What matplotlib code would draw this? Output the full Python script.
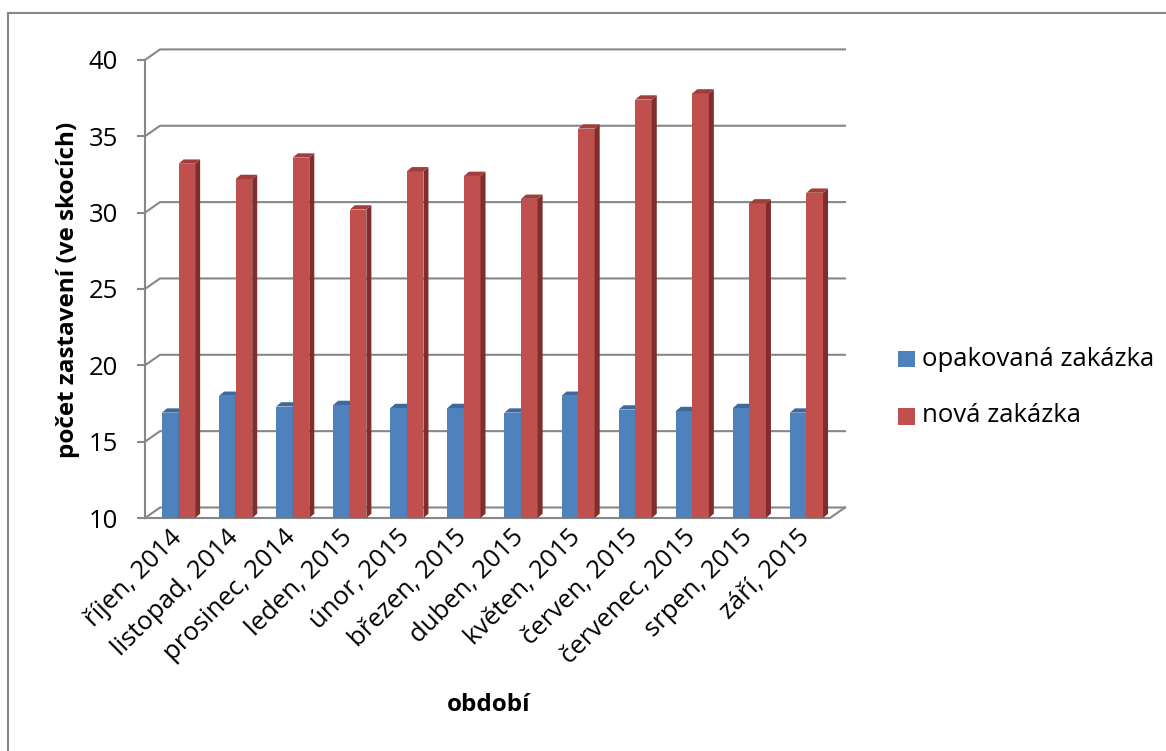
import matplotlib
matplotlib.use("Agg")
import matplotlib.pyplot as plt
from matplotlib.patches import Polygon, Rectangle
from matplotlib.lines import Line2D

# --- data -------------------------------------------------------------
months = ["říjen, 2014", "listopad, 2014", "prosinec, 2014", "leden, 2015",
          "únor, 2015", "březen, 2015", "duben, 2015", "květen, 2015",
          "červen, 2015", "červenec, 2015", "srpen, 2015", "září, 2015"]
repeat_orders = [16.9, 18.0, 17.3, 17.4, 17.2, 17.2, 16.9, 18.0, 17.1, 17.0, 17.2, 16.9]
new_orders = [33.2, 32.2, 33.6, 30.2, 32.7, 32.4, 30.9, 35.5, 37.4, 37.8, 30.6, 31.3]
series_names = ["opakovaná zakázka", "nová zakázka"]
y_ticks = [10, 15, 20, 25, 30, 35, 40]
y_label = "počet zastavení (ve skocích)"
x_label = "období"

# --- styling ------------------------------------------------------------
FONT = "Open Sans"
FS = 18.5
FS_TITLE = 17.5
W, H = 1166, 751
GRID = "#878787"
BLUE = dict(front="#4F81BD", top="#3C6A9F", side="#385D8A")
RED = dict(front="#C0504D", top="#A13E3B", side="#7E2F2D")

plt.rcParams["font.family"] = [FONT, "DejaVu Sans"]

fig = plt.figure(figsize=(W / 100, H / 100), dpi=100)
fig.patch.set_facecolor("white")

def fx(px):
    return px / W

def fy(py):
    return 1 - py / H

# plot area (front plane 145..830 px, back wall shifted right/up)
n = len(months)
back_dx = 15 / 57          # depth shift in category units
back_dy = 10.5 / 15.27     # depth shift in value units
ax = fig.add_axes([fx(145), fy(518), fx(845) - fx(145), fy(49.4) - fy(518)])
ax.set_xlim(0, n + back_dx)
ax.set_ylim(y_ticks[0], y_ticks[-1] + back_dy)
ax.set_facecolor("none")
for s in ["top", "right", "bottom"]:
    ax.spines[s].set_visible(False)
ax.spines["left"].set_bounds(y_ticks[0], y_ticks[-1])
ax.spines["left"].set_color(GRID)
ax.spines["left"].set_linewidth(1.5)

# y axis ticks
ax.set_yticks(y_ticks)
ax.set_yticklabels([str(t) for t in y_ticks])
ax.tick_params(axis="y", length=5.8, width=1.5, color=GRID, pad=13.5,
               labelsize=FS, labelcolor="black")

# x axis category labels
ax.set_xticks([i + 0.42 for i in range(n)])
ax.set_xticklabels(months, rotation=45, ha="right", rotation_mode="anchor")
ax.tick_params(axis="x", length=0, pad=5, labelsize=FS, labelcolor="black")

# gridlines: side-wall diagonal + back-wall horizontal
for v in y_ticks:
    ax.add_line(Line2D([0, back_dx, n + back_dx], [v, v + back_dy, v + back_dy],
                       color=GRID, lw=1.5, zorder=1, clip_on=False))
# floor front edge and right edge
ax.add_line(Line2D([0, n, n + back_dx], [y_ticks[0], y_ticks[0], y_ticks[0] + back_dy],
                   color=GRID, lw=1.5, zorder=1, clip_on=False))

# 3D-looking columns
bw = 0.29
ddx = 5 / 57
ddy = 4.3 / 15.27
base = y_ticks[0]

def column(x0, val, colors):
    ax.bar(x0 + bw / 2, val - base, width=bw, bottom=base, color=colors["front"],
           edgecolor="none", zorder=3)
    top = Polygon([(x0, val), (x0 + ddx, val + ddy), (x0 + bw + ddx, val + ddy),
                   (x0 + bw, val)], closed=True, facecolor=colors["top"],
                  edgecolor="none", zorder=3)
    side = Polygon([(x0 + bw, base), (x0 + bw + ddx, base + ddy),
                    (x0 + bw + ddx, val + ddy), (x0 + bw, val)], closed=True,
                   facecolor=colors["side"], edgecolor="none", zorder=3)
    ax.add_patch(side)
    ax.add_patch(top)

for i in range(n):
    column(i + 0.298, repeat_orders[i], BLUE)
    column(i + 0.298 + bw, new_orders[i], RED)

# axis titles
fig.text(fx(489), fy(705), x_label, ha="center", va="center",
         fontsize=FS_TITLE, fontweight="bold")
fig.text(fx(68), fy(290), y_label, ha="center", va="center", rotation=90,
         fontsize=FS_TITLE, fontweight="bold")

# legend
for k, (name, col) in enumerate(zip(series_names, [BLUE["front"], RED["front"]])):
    cy = 359 + k * 57
    fig.patches.append(Rectangle((fx(898), fy(cy + 8.5)), fx(16.5), fy(0) - fy(16.5),
                                 transform=fig.transFigure, facecolor=col,
                                 edgecolor="none"))
    fig.text(fx(922), fy(cy), name, ha="left", va="center", fontsize=FS)

# chart-area border (top and left edges)
fig.add_artist(Line2D([fx(8), fx(1166)], [fy(13), fy(13)], color=GRID, lw=1.5,
                      transform=fig.transFigure))
fig.add_artist(Line2D([fx(8), fx(8)], [fy(13), fy(751)], color=GRID, lw=1.5,
                      transform=fig.transFigure))

fig.savefig("out.png", dpi=100, facecolor="white")
